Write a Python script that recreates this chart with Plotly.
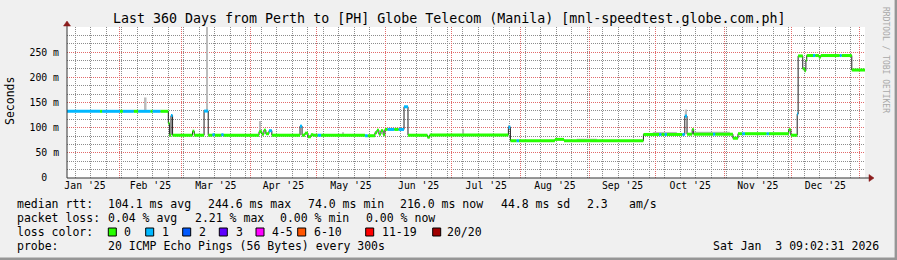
import plotly.graph_objects as go
import pandas as pd

# ---------------- data ----------------
START = '2025-01-08 09:02'
END = '2026-01-03 09:02'

rtt_time = [
    '2025-01-08 09:02', '2025-01-23 07:00', '2025-01-24 05:00', '2025-02-01 07:00', '2025-02-02 14:00',
    '2025-02-07 12:00', '2025-02-09 12:00', '2025-02-15 00:00', '2025-02-16 00:00', '2025-02-19 12:00',
    '2025-02-23 02:00', '2025-02-23 14:00', '2025-02-24 07:00', '2025-02-25 00:00', '2025-03-06 00:00',
    '2025-03-06 19:00', '2025-03-11 05:00', '2025-03-13 02:00', '2025-03-15 00:00', '2025-03-16 00:00',
    '2025-03-19 00:00', '2025-03-20 00:00', '2025-04-05 00:00', '2025-04-06 07:00', '2025-04-07 05:00',
    '2025-04-08 02:00', '2025-04-09 12:00', '2025-04-10 19:00', '2025-04-23 12:00', '2025-04-24 10:00',
    '2025-04-25 17:00', '2025-04-27 02:00', '2025-04-28 10:00', '2025-04-29 12:00', '2025-05-01 12:00',
    '2025-05-03 00:00', '2025-05-22 19:00', '2025-05-24 00:00', '2025-05-27 07:00', '2025-05-28 05:00',
    '2025-05-29 02:00', '2025-05-30 00:00', '2025-05-31 00:00', '2025-05-31 19:00', '2025-06-02 00:00',
    '2025-06-05 00:00', '2025-06-07 00:00', '2025-06-09 10:00', '2025-06-11 05:00', '2025-06-20 00:00',
    '2025-06-21 00:00', '2025-07-26 12:00', '2025-07-27 10:00', '2025-07-30 05:00', '2025-07-31 07:00',
    '2025-08-16 12:00', '2025-08-20 14:00', '2025-09-25 10:00', '2025-10-02 12:00', '2025-10-03 12:00',
    '2025-10-05 00:00', '2025-10-06 00:00', '2025-10-13 00:00', '2025-10-14 02:00', '2025-10-15 02:00',
    '2025-10-17 10:00', '2025-10-18 02:00', '2025-10-26 19:00', '2025-10-27 19:00', '2025-11-04 19:00',
    '2025-11-07 02:00', '2025-11-09 00:00', '2025-11-10 06:00', '2025-11-20 00:00', '2025-11-21 00:00',
    '2025-11-30 00:00', '2025-11-30 22:00', '2025-12-03 19:00', '2025-12-04 05:00', '2025-12-06 07:00',
    '2025-12-07 05:00', '2025-12-07 17:00', '2025-12-08 02:00', '2025-12-10 22:00', '2025-12-11 22:00',
    '2025-12-13 14:00', '2025-12-14 10:00', '2025-12-23 00:00', '2025-12-23 20:00', '2025-12-28 10:00',
]
rtt_ms = [
    132.5, 132.5, 132.5, 132.5, 132.5,
    132.5, 132.5, 132.5, 132.5, 132.5,
    109, 85, 124, 85, 93,
    85, 133, 85, 86, 85,
    86, 85, 92, 87, 95,
    88, 94, 85, 103, 85,
    89, 82, 86, 85, 85,
    85, 84, 84, 90, 95,
    87, 94, 86, 96.5, 96.5,
    96.5, 96.5, 141.5, 85, 81,
    85.5, 101, 74, 74, 74,
    76.7, 74, 86.5, 86.5, 86.5,
    86.5, 86.5, 86.5, 123, 87,
    96.5, 87, 87, 87, 79,
    88, 88, 88, 88, 88,
    96, 85, 127, 242.5, 217,
    213, 234, 243.3, 243.3, 243.3,
    240, 243.3, 243.3, 243.3, 214.5,
]
rtt_loss = [
    1, 0, 1, 0, 1,
    0, 1, 0, 1, 0,
    0, 0, 1, 0, 0,
    0, 1, 0, 1, 0,
    1, 0, 0, 0, 0,
    0, 1, 0, 1, 0,
    0, 0, 0, 0, 1,
    0, 1, 0, 0, 0,
    0, 0, 0, 0, 1,
    0, 1, 1, 0, 0,
    0, 1, 0, 1, 0,
    0, 0, 0, 1, 0,
    1, 0, 1, 1, 0,
    0, 0, 1, 0, 0,
    0, 1, 0, 1, 0,
    0, 0, 1, 0, 0,
    0, 0, 0, 1, 0,
    0, 0, 1, 0, 0,
]

smoke_start = ['2025-02-12 12:00', '2025-03-12 02:00', '2025-04-05 00:00', '2025-05-12 12:00',
               '2025-07-05 18:00', '2025-07-26 12:00', '2025-08-26 08:00', '2025-09-29 16:00',
               '2025-10-14 02:00', '2025-10-18 14:00']
smoke_end = ['2025-02-13 06:00', '2025-03-12 20:00', '2025-04-05 18:00', '2025-05-13 06:00',
             '2025-07-06 12:00', '2025-07-27 06:00', '2025-09-04 10:00', '2025-10-10 12:00',
             '2025-10-15 02:00', '2025-11-03 10:00']
smoke_lo = [133, 133, 92, 85, 85, 101, 74, 86.5, 123, 87]
smoke_hi = [160, 320, 113, 91, 97, 105, 78, 91.5, 136, 92]

y_ticks = [0, 50, 100, 150, 200, 250]
y_tick_text = ['0\u00a0\u00a0', '50 m', '100 m', '150 m', '200 m', '250 m']

loss_labels = ['0', '1', '2', '3', '4-5', '6-10', '11-19', '20/20']
loss_colors = ['#26ff00', '#00b8ff', '#0059ff', '#5e00ff', '#ff00ff', '#ff5500', '#ff0000', '#a00000']

title_text = 'Last 360 Days from Perth to [PH] Globe Telecom (Manila) [mnl-speedtest.globe.com.ph]'
rtt_stats = ['median rtt:', '104.1 ms avg', '244.6 ms max', '74.0 ms min', '216.0 ms now', '44.8 ms sd', '2.3', 'am/s']
loss_stats = ['packet loss:', '0.04 % avg', '2.21 % max', '0.00 % min', '0.00 % now']
probe_text = ['probe:', '20 ICMP Echo Pings (56 Bytes) every 300s']
stamp_text = 'Sat Jan\u00a0\u00a03 09:02:31 2026'

# ---------------- layout geometry (pixels) ----------------
W, H = 897, 260
L, R, T, B = 67, 865, 27, 178
MONO = 'DejaVu Sans Mono'


def px(x):
    return (x - L) / (R - L)


def py(y):
    return (B - y) / (B - T)


fig = go.Figure()

# smoke (grey spread)
s0 = pd.to_datetime(smoke_start)
s1 = pd.to_datetime(smoke_end)
centers = s0 + (s1 - s0) / 2
widths = [(b - a).total_seconds() * 1000 for a, b in zip(s0, s1)]
fig.add_trace(go.Bar(
    x=centers, y=[h - l for h, l in zip(smoke_hi, smoke_lo)], base=smoke_lo, width=widths,
    marker=dict(color='#bcbcbc', line=dict(width=0)), showlegend=False, hoverinfo='skip'))

# median line (dark)
t_all = rtt_time + [END]
fig.add_trace(go.Scatter(
    x=t_all, y=rtt_ms + [rtt_ms[-1]], mode='lines',
    line=dict(color='#202020', width=1, shape='hv'), showlegend=False, hoverinfo='skip'))

# loss-coloured bands on the horizontal parts
for level in sorted(set(rtt_loss)):
    xs, ys = [], []
    for i, (v, l) in enumerate(zip(rtt_ms, rtt_loss)):
        if l == level:
            xs += [t_all[i], t_all[i + 1], None]
            ys += [v, v, None]
    fig.add_trace(go.Scatter(
        x=xs, y=ys, mode='lines', line=dict(color=loss_colors[level], width=3),
        showlegend=False, hoverinfo='skip'))

ann = []


def text(s, x, y, size, anchor='left', color='black', angle=0):
    ann.append(dict(text=s, x=px(x), y=py(y), xref='paper', yref='paper', showarrow=False,
                    xanchor=anchor, yanchor='middle', textangle=angle,
                    font=dict(family=MONO, size=size, color=color), borderpad=0))


# title
text(title_text, 448.5, 19, 13.3, anchor='center')
# y unit label
text('Seconds', 10, 101, 11.5, anchor='center', angle=-90)
# watermark
text('RRDTOOL / TOBI OETIKER', 886, 60, 8, anchor='center', color='#a8a8a8', angle=90)

LEG = 11.5
rows = [204.3, 218.3, 232, 246]
for s, x in zip(rtt_stats, [16, 107, 207, 307, 399, 500, 586, 628]):
    text(s, x, rows[0], LEG)
for s, x in zip(loss_stats, [16, 107, 194, 279, 365]):
    text(s, x, rows[1], LEG)
text('loss color:', 16, rows[2], LEG)
sq_x = [108.3, 145.7, 182.7, 219.3, 256, 297.7, 365.7, 432.7]
lb_x = [123.3, 160.7, 197.7, 235, 270.7, 312.7, 380.7, 446]
shapes = []
for lab, col, sx, lx in zip(loss_labels, loss_colors, sq_x, lb_x):
    shapes.append(dict(type='rect', xref='paper', yref='paper', x0=px(sx), x1=px(sx + 8),
                       y0=py(228), y1=py(236), fillcolor=col, line=dict(color='black', width=1)))
    text(lab, lx, rows[2], LEG)
text(probe_text[0], 16, rows[3], LEG)
text(probe_text[1], 107, rows[3], LEG)
text(stamp_text, 880, rows[3], LEG, anchor='right')

# axis extensions + arrows
AX = '#333333'
ARROW = '#8b1c1c'
shapes += [
    dict(type='line', xref='paper', yref='paper', x0=px(67), x1=px(67), y0=py(178), y1=py(25),
         line=dict(color=AX, width=1)),
    dict(type='line', xref='paper', yref='paper', x0=px(67), x1=px(869), y0=py(178), y1=py(178),
         line=dict(color=AX, width=1)),
    dict(type='path', xref='paper', yref='paper', fillcolor=ARROW, line=dict(color=ARROW, width=0.5),
         path=f'M {px(67)},{py(21)} L {px(63.5)},{py(26)} L {px(70.5)},{py(26)} Z'),
    dict(type='path', xref='paper', yref='paper', fillcolor=ARROW, line=dict(color=ARROW, width=0.5),
         path=f'M {px(874)},{py(178)} L {px(869)},{py(174.5)} L {px(869)},{py(181.5)} Z'),
    # 3D frame
    dict(type='line', xref='paper', yref='paper', x0=px(0), x1=px(897), y0=py(258.8), y1=py(258.8),
         line=dict(color='#969696', width=2.4)),
    dict(type='line', xref='paper', yref='paper', x0=px(895.8), x1=px(895.8), y0=py(0), y1=py(260),
         line=dict(color='#969696', width=2.4)),
]

MGRID = '#e26a6a'
GRID = '#8c8c8c'
fig.update_layout(
    width=W, height=H,
    margin=dict(l=L, r=W - R, t=T, b=H - B),
    paper_bgcolor='#f0f0f0', plot_bgcolor='white',
    showlegend=False,
    annotations=ann, shapes=shapes,
    xaxis=dict(
        type='date', range=[START, END], dtick='M1', tick0='2025-01-01',
        tickformat="%b '%y", ticklabelmode='period',
        showgrid=True, gridcolor=MGRID, griddash='1px,1px',
        minor=dict(dtick=7 * 86400000, tick0='2025-01-05', showgrid=True,
                   gridcolor=GRID, griddash='1px,1px'),
        zeroline=False,
        tickfont=dict(family=MONO, size=9.8, color='black'),
    ),
    yaxis=dict(
        range=[0, 300], tickvals=y_ticks, ticktext=y_tick_text,
        showgrid=True, gridcolor=MGRID, griddash='1px,1px',
        minor=dict(tickmode='linear', tick0=0, dtick=50 / 3, showgrid=True,
                   gridcolor=GRID, griddash='1px,1px'),
        zeroline=False, ticks='outside', ticklen=5, tickcolor='rgba(0,0,0,0)',
        tickfont=dict(family=MONO, size=9.8, color='black'),
    ),
)

fig.write_html('out.html')
